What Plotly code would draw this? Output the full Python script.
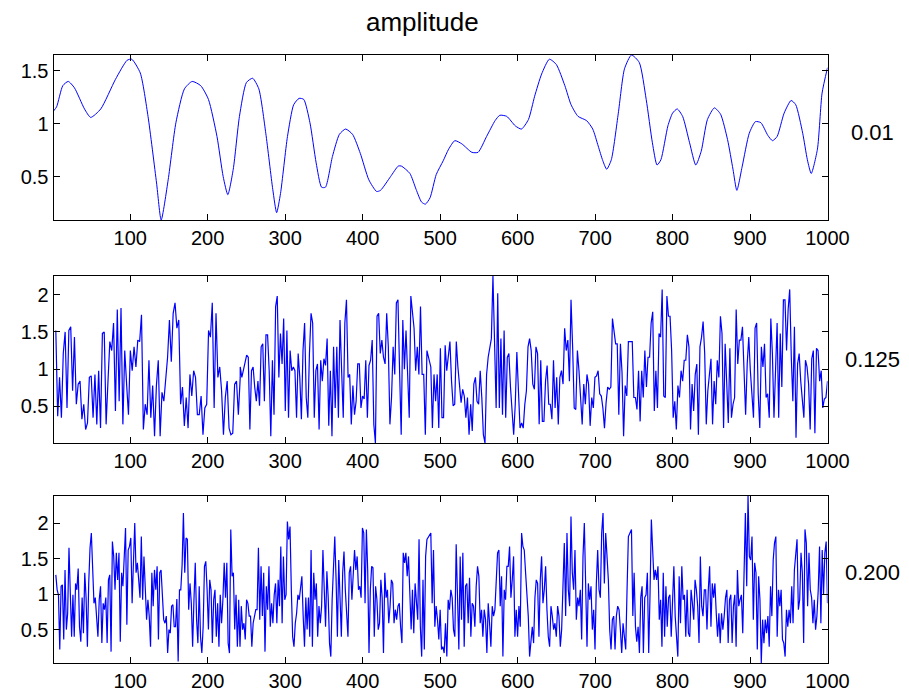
import numpy as np
import plotly.graph_objects as go

# ---------------- data ----------------
# panel 1 (0.01): smooth curve, read at irregular sample positions
s1_x = [1, 5, 13, 20, 28, 41, 49, 62, 81, 96, 102, 113, 123, 134, 140, 149, 159, 170, 180, 191,
        201, 212, 220, 226, 233, 241, 250, 258, 266, 275, 284, 289, 294, 303, 311, 318, 324, 332,
        340, 347, 352, 361, 370, 378, 387, 397, 408, 418, 423, 436, 446, 450, 461, 469, 476, 481,
        487, 495, 504, 511, 519, 528, 541, 549, 560, 571, 577, 586, 597, 605, 614, 622, 631, 641,
        650, 661, 669, 678, 689, 697, 704, 710, 715, 721, 730, 738, 747, 757, 766, 774, 780, 785,
        794, 800, 806, 813, 822, 830, 837, 845, 854, 862, 871, 878, 883, 890, 899, 907, 914, 923,
        929, 935, 944, 953, 959, 968, 974, 979, 987, 993, 1000]
s1_y = [1.12, 1.16, 1.36, 1.40, 1.34, 1.14, 1.06, 1.14, 1.42, 1.60, 1.61, 1.48, 1.07, 0.44, 0.09,
        0.47, 1.01, 1.33, 1.40, 1.36, 1.23, 0.88, 0.50, 0.33, 0.57, 1.07, 1.39, 1.43, 1.33, 0.91,
        0.38, 0.16, 0.34, 0.88, 1.18, 1.24, 1.23, 1.01, 0.63, 0.40, 0.40, 0.69, 0.90, 0.95, 0.90,
        0.72, 0.47, 0.36, 0.37, 0.50, 0.60, 0.60, 0.53, 0.38, 0.26, 0.24, 0.30, 0.52, 0.65, 0.76,
        0.84, 0.81, 0.73, 0.73, 0.88, 1.03, 1.08, 1.07, 0.98, 0.95, 1.04, 1.26, 1.47, 1.61, 1.56,
        1.36, 1.18, 1.07, 1.03, 0.95, 0.79, 0.65, 0.57, 0.66, 1.10, 1.52, 1.65, 1.58, 1.23, 0.82,
        0.61, 0.66, 0.98, 1.10, 1.14, 1.07, 0.82, 0.61, 0.74, 1.04, 1.15, 1.09, 0.85, 0.57, 0.37,
        0.60, 0.91, 1.02, 1.01, 0.89, 0.84, 0.88, 1.10, 1.22, 1.18, 0.91, 0.66, 0.53, 0.76, 1.29,
        1.53]

# panel 2 (0.125): noisy series, read segment by segment (segment x extents below)
s2_seg_x = [[4, 242], [242, 483], [488, 743], [748, 1000]]
s2_a = [1.52, 0.37, 0.89, 0.35, 1.21, 1.50, 0.48, 1.52, 1.57, 0.71, 1.43, 0.53, 0.80, 0.84, 0.33,
        0.53, 0.19, 0.28, 0.89, 0.91, 0.35, 0.93, 0.26, 0.98, 0.21, 1.48, 1.50, 0.26, 0.84, 1.37,
        1.25, 1.62, 0.44, 1.80, 0.57, 1.82, 0.26, 1.25, 0.80, 0.39, 1.25, 0.98, 1.30, 1.03, 1.39,
        1.37, 1.73, 0.19, 0.53, 0.39, 1.12, 0.35, 0.78, 0.10, 0.78, 1.12, 0.10, 0.69, 0.57, 0.84,
        1.16, 1.66, 1.10, 1.75, 1.89, 1.55, 1.66, 0.53, 0.76, 0.24, 0.62, 0.21, 0.93, 0.64, 0.98,
        0.89, 0.39, 0.39, 0.64, 0.12, 0.48, 0.53, 1.52, 1.43, 1.89, 0.48, 1.75, 0.89, 1.03, 0.71,
        0.12, 0.62, 0.84, 0.21, 0.12, 0.14, 0.80, 0.84, 0.39, 0.89]
s2_b = [1.03, 0.89, 0.98, 1.07, 1.19, 1.16, 0.19, 0.98, 1.03, 0.76, 0.57, 0.84, 0.51, 1.30, 1.34,
        0.57, 1.46, 1.46, 0.98, 0.10, 1.12, 0.39, 1.84, 1.98, 0.89, 1.48, 1.07, 1.68, 0.44, 1.52,
        0.35, 1.25, 0.98, 1.03, 0.98, 0.35, 1.21, 0.89, 0.33, 1.25, 1.62, 0.62, 0.35, 1.21, 1.75,
        1.62, 0.35, 0.98, 1.07, 0.19, 1.12, 0.84, 1.14, 1.05, 1.41, 0.24, 0.98, 0.10, 1.30, 0.48,
        1.30, 0.35, 1.66, 0.98, 0.35, 1.62, 1.93, 0.89, 0.93, 0.26, 0.78, 0.39, 0.57, 1.07, 1.07,
        0.48, 0.64, 0.60, 1.12, 0.35, 1.05, 1.12, 1.39, 0.26, 0.01, 1.71, 1.75, 1.21, 1.39, 1.16,
        1.07, 1.75, 1.30, 0.26, 0.62, 1.30, 0.93, 1.89, 1.93, 0.98, 0.12, 1.66, 1.00, 1.52, 0.98,
        0.35, 1.98, 1.75, 1.55, 0.98, 1.30, 0.93, 1.84, 0.93, 0.93, 0.12, 1.25]
s2_c = [1.03, 0.21, 0.93, 0.57, 0.93, 0.21, 1.28, 0.35, 0.35, 1.32, 0.98, 1.16, 1.37, 0.84, 0.51,
        0.53, 1.37, 1.03, 0.78, 0.55, 0.73, 0.64, 0.35, 0.62, 0.12, 0.53, 0.17, 0.80, 0.89, 0.57,
        0.53, 0.98, 0.62, 0.12, 0.01, 0.93, 1.16, 1.30, 1.41, 2.25, 1.30, 0.48, 2.02, 0.48, 1.41,
        0.39, 1.52, 0.35, 1.16, 1.21, 0.76, 0.44, 0.12, 0.53, 1.23, 0.71, 0.21, 0.28, 0.21, 0.53,
        0.71, 1.30, 1.41, 1.25, 0.80, 0.73, 1.30, 1.21, 0.26, 1.12, 0.30, 0.30, 0.84, 1.05, 0.53,
        0.53, 0.33, 1.12, 0.48, 0.89, 0.26, 0.89, 0.98, 0.80, 1.55, 1.25, 1.39, 0.84, 1.93, 1.30,
        0.48, 0.46, 1.25, 0.98, 0.62, 0.26, 0.80, 0.53, 0.93, 0.80, 0.24, 0.62, 0.48, 0.89, 0.91,
        0.98, 0.67, 0.64, 0.48, 0.21, 0.55, 0.76, 0.73, 0.76, 1.68, 1.52, 1.34, 1.34, 0.39, 1.34,
        0.96, 0.10, 0.78, 0.64, 1.37]
s2_d = [1.37, 0.62, 0.62, 0.46, 0.98, 0.30, 0.98, 0.62, 1.25, 0.76, 1.16, 1.16, 1.62, 1.77, 0.44,
        0.98, 0.48, 1.48, 1.43, 2.07, 0.64, 0.62, 1.98, 1.71, 1.71, 1.25, 0.35, 0.57, 0.19, 0.78,
        0.62, 0.98, 0.84, 1.12, 1.12, 1.46, 1.30, 0.19, 0.80, 0.44, 0.93, 1.07, 0.12, 1.30, 1.43,
        1.64, 1.21, 0.26, 0.71, 0.98, 1.14, 0.26, 0.84, 0.53, 1.12, 0.89, 1.71, 1.48, 0.21, 1.34,
        0.84, 0.28, 1.28, 0.35, 0.53, 0.62, 1.80, 1.07, 1.39, 1.39, 1.57, 1.03, 0.39, 1.07, 1.43,
        0.98, 0.62, 0.35, 1.55, 1.62, 0.67, 0.21, 1.30, 1.03, 1.34, 0.62, 0.67, 0.35, 1.68, 1.21,
        0.35, 0.98, 1.62, 0.35, 1.48, 0.76, 1.93, 1.93, 1.25, 1.80, 2.07, 1.16, 0.57, 1.57, 0.08,
        1.07, 1.21, 0.84, 0.57, 0.35, 1.12, 1.03, 0.80, 0.19, 1.14, 1.25, 0.14, 1.28, 1.25, 0.84,
        0.98, 0.48, 0.60, 0.62, 0.84]

# panel 3 (0.200)
s3_seg_x = [[4, 240], [240, 483], [488, 743], [747, 1000]]
s3_a = [1.27, 1.06, 0.99, 0.22, 1.11, 1.13, 0.36, 1.34, 0.50, 0.73, 1.65, 1.06, 0.40, 0.99, 0.40,
        1.15, 1.06, 1.36, 0.54, 0.33, 0.95, 0.45, 1.30, 0.95, 0.26, 1.15, 1.65, 1.86, 1.39, 0.87,
        0.95, 0.59, 0.40, 0.92, 1.11, 0.31, 0.87, 0.78, 0.95, 0.31, 1.20, 1.27, 0.19, 1.74, 1.53,
        1.06, 1.58, 1.20, 1.58, 0.33, 1.30, 1.11, 1.48, 1.93, 0.57, 1.62, 1.67, 1.79, 0.87, 1.39,
        2.00, 1.30, 1.44, 1.20, 0.95, 1.81, 0.92, 1.53, 0.95, 0.64, 0.92, 0.69, 0.26, 1.30, 0.83,
        1.34, 1.06, 1.39, 0.36, 1.30, 1.34, 0.92, 0.64, 0.59, 0.69, 0.17, 0.50, 0.45, 0.83, 0.85,
        0.54, 0.54, 0.93, 0.05, 1.06, 1.06, 1.41, 2.14, 1.30, 1.79, 1.77, 0.78, 1.15, 0.87, 0.26,
        0.92, 1.44, 0.64, 0.31, 1.11, 0.40, 0.17, 0.54, 1.39, 1.46, 1.06, 0.50, 1.20, 1.06, 0.31,
        0.92, 1.06, 0.40, 0.87, 0.26, 0.99, 0.59, 0.92, 1.44, 0.95, 1.44, 0.31, 0.17, 1.91, 1.25,
        1.30, 0.50, 0.99, 0.26, 0.83]
s3_b = [0.92, 0.26, 0.83, 0.50, 0.59, 0.36, 0.92, 0.87, 0.69, 0.69, 0.26, 0.59, 0.69, 0.78, 0.78,
        1.65, 0.64, 1.39, 0.69, 1.30, 0.19, 1.11, 0.78, 1.39, 0.54, 0.87, 0.59, 0.99, 1.15, 0.59,
        1.20, 0.83, 1.67, 0.59, 1.53, 0.92, 0.99, 2.02, 1.77, 1.95, 1.06, 0.40, 0.26, 0.59, 0.73,
        0.99, 0.92, 1.11, 1.25, 0.69, 0.26, 0.95, 0.50, 0.95, 0.40, 1.62, 0.26, 1.30, 0.92, 1.15,
        0.40, 0.83, 0.59, 0.83, 1.62, 1.06, 0.54, 1.32, 0.95, 0.31, 0.12, 0.92, 1.30, 1.81, 1.20,
        0.40, 1.48, 0.95, 0.40, 1.30, 1.60, 1.06, 0.73, 0.40, 1.30, 1.39, 0.92, 1.20, 1.62, 1.34,
        1.53, 1.06, 1.11, 0.95, 1.93, 1.86, 0.87, 1.91, 1.34, 0.17, 1.06, 1.39, 1.37, 0.40, 1.11,
        0.92, 0.50, 0.59, 1.20, 0.95, 0.17, 1.30, 0.95, 1.06, 0.59, 0.83, 1.20, 1.15, 0.59, 0.78,
        0.64, 0.83, 0.87, 0.54, 0.31, 1.58, 1.44, 1.58, 1.25, 1.53, 0.83, 0.50, 1.06, 0.45, 1.15,
        0.95, 0.64, 1.77, 0.54, 0.12, 1.20, 0.22, 1.53, 1.77]
s3_c = [1.86, 0.87, 1.62, 0.54, 0.83, 0.64, 0.36, 0.78, 0.22, 0.26, 0.17, 0.59, 0.12, 0.92, 0.78,
        1.06, 0.95, 0.50, 0.40, 1.70, 0.83, 0.22, 1.53, 0.64, 1.58, 0.26, 1.11, 1.15, 0.59, 1.23,
        0.40, 0.87, 0.83, 0.54, 1.11, 1.39, 1.25, 0.59, 0.78, 0.40, 0.78, 0.64, 0.17, 0.87, 0.59,
        0.26, 0.83, 0.69, 0.78, 1.11, 1.58, 1.62, 0.83, 1.25, 0.12, 1.06, 0.92, 1.39, 1.39, 1.67,
        0.95, 1.20, 1.53, 0.40, 0.78, 0.40, 0.83, 0.54, 1.86, 1.67, 1.62, 1.30, 0.95, 0.69, 0.12,
        0.36, 0.54, 0.31, 0.95, 1.20, 1.15, 0.40, 1.20, 1.53, 0.87, 1.06, 1.39, 0.78, 0.40, 0.26,
        0.83, 0.69, 0.50, 0.59, 0.40, 0.83, 0.69, 0.26, 0.50, 1.11, 1.72, 0.69, 1.86, 1.06, 0.83,
        2.09, 1.30, 1.06, 1.62, 0.64, 0.95, 0.83, 1.06, 0.36, 1.53, 2.00, 0.83, 0.26, 1.15, 0.92,
        1.11, 0.50, 0.78, 0.22, 1.15, 1.62, 1.06, 0.95, 1.86, 2.14, 1.15, 1.86, 1.53, 1.20, 0.50,
        0.22, 0.64, 0.69, 0.22, 0.69, 0.83, 0.78, 0.50, 0.17, 0.59, 0.40, 0.22, 1.06, 1.81]
s3_d = [1.91, 0.69, 1.30, 0.54, 0.33, 0.54, 0.17, 0.95, 1.11, 0.17, 0.95, 0.99, 1.30, 0.17, 0.99,
        2.05, 1.62, 1.20, 1.34, 1.20, 1.39, 0.64, 0.92, 0.26, 1.30, 0.40, 1.11, 0.54, 0.95, 0.99,
        0.40, 0.95, 1.39, 0.69, 0.31, 0.12, 1.25, 0.59, 1.39, 0.92, 0.99, 0.40, 1.06, 0.45, 0.40,
        1.06, 0.87, 0.64, 1.20, 1.06, 0.83, 0.31, 1.53, 0.83, 0.69, 1.06, 1.06, 0.50, 1.06, 1.39,
        0.54, 1.15, 0.95, 1.15, 0.73, 0.40, 0.73, 0.31, 0.73, 0.50, 0.69, 0.95, 1.06, 0.31, 0.92,
        0.99, 0.31, 0.83, 0.99, 0.26, 1.34, 0.83, 0.92, 0.99, 0.45, 1.53, 2.14, 1.11, 2.38, 1.53,
        1.48, 1.81, 0.64, 1.44, 1.30, 0.22, 1.25, 0.92, 0.03, 0.64, 0.31, 0.64, 0.45, 0.69, 0.26,
        1.11, 0.69, 1.48, 1.72, 1.81, 0.40, 1.06, 0.83, 1.06, 0.36, 0.31, 0.12, 0.78, 0.54, 0.78,
        0.59, 1.11, 0.59, 1.34, 1.53, 1.77, 0.78, 0.92, 1.58, 1.30, 0.31, 1.91, 1.72, 0.83, 1.58,
        1.06, 0.95, 0.59, 0.92, 0.50, 0.69, 1.06, 1.67, 0.59, 1.62, 0.99, 1.58, 1.74, 0.87]

x_ticks = [100, 200, 300, 400, 500, 600, 700, 800, 900, 1000]
y_ticks_1 = [0.5, 1, 1.5]
y_ticks_23 = [0.5, 1, 1.5, 2]
panel_labels = ["0.01", "0.125", "0.200"]
title_text = "amplitude"


def join_segments(bounds, segs):
    xs, ys = [], []
    for (a, b), seg in zip(bounds, segs):
        xs.extend(np.linspace(a, b, len(seg)).tolist())
        ys.extend(seg)
    return xs, ys


s2_x, s2_y = join_segments(s2_seg_x, [s2_a, s2_b, s2_c, s2_d])
s3_x, s3_y = join_segments(s3_seg_x, [s3_a, s3_b, s3_c, s3_d])

# ---------------- figure ----------------
W, H = 909, 698
FONT = "Liberation Sans, Arial, Helvetica, sans-serif"
BLUE = "#0000ff"

fig = go.Figure()
fig.add_trace(go.Scatter(x=s1_x, y=s1_y, mode="lines", xaxis="x", yaxis="y",
                         line=dict(color=BLUE, width=1, shape="spline", smoothing=0.6),
                         showlegend=False, hoverinfo="skip"))
fig.add_trace(go.Scatter(x=s2_x, y=s2_y, mode="lines", xaxis="x2", yaxis="y2",
                         line=dict(color=BLUE, width=1.2), showlegend=False, hoverinfo="skip"))
fig.add_trace(go.Scatter(x=s3_x, y=s3_y, mode="lines", xaxis="x3", yaxis="y3",
                         line=dict(color=BLUE, width=1.2), showlegend=False, hoverinfo="skip"))

x_dom = [53.5 / W, 827.5 / W]
y_doms = [[1 - 220 / H, 1 - 55 / H], [1 - 443 / H, 1 - 276 / H], [1 - 663 / H, 1 - 496 / H]]

axis_common = dict(showline=True, linecolor="black", linewidth=1, mirror="ticks",
                   ticks="inside", ticklen=6, tickcolor="black", tickwidth=1,
                   showgrid=False, zeroline=False, automargin=False,
                   tickfont=dict(family=FONT, size=20, color="black"))

series = [s1_y, s2_y, s3_y]
layout = dict(width=W, height=H, autosize=False,
              margin=dict(l=0, r=0, t=0, b=0, pad=0),
              paper_bgcolor="white", plot_bgcolor="white", showlegend=False)
for i in range(3):
    sfx = "" if i == 0 else str(i + 1)
    layout["xaxis" + sfx] = dict(axis_common, domain=x_dom, range=[1, 1000],
                                 tickvals=x_ticks, anchor="y" + sfx)
    yt = y_ticks_1 if i == 0 else y_ticks_23
    layout["yaxis" + sfx] = dict(axis_common, domain=y_doms[i],
                                 range=[min(series[i]), max(series[i])],
                                 tickvals=yt, ticktext=[f"{v:g}" for v in yt],
                                 anchor="x" + sfx)
fig.update_layout(**layout)

ann = [dict(text=title_text, x=422 / W, y=1 - 22 / H, xref="paper", yref="paper",
            xanchor="center", yanchor="middle", showarrow=False,
            font=dict(family=FONT, size=26, color="black"))]
label_y = [132, 359, 572]
for lab, yy in zip(panel_labels, label_y):
    ann.append(dict(text=lab, x=872 / W, y=1 - yy / H, xref="paper", yref="paper",
                    xanchor="center", yanchor="middle", showarrow=False,
                    font=dict(family=FONT, size=22, color="black")))
fig.update_layout(annotations=ann)

fig.write_html("out.html", config={"responsive": False})
